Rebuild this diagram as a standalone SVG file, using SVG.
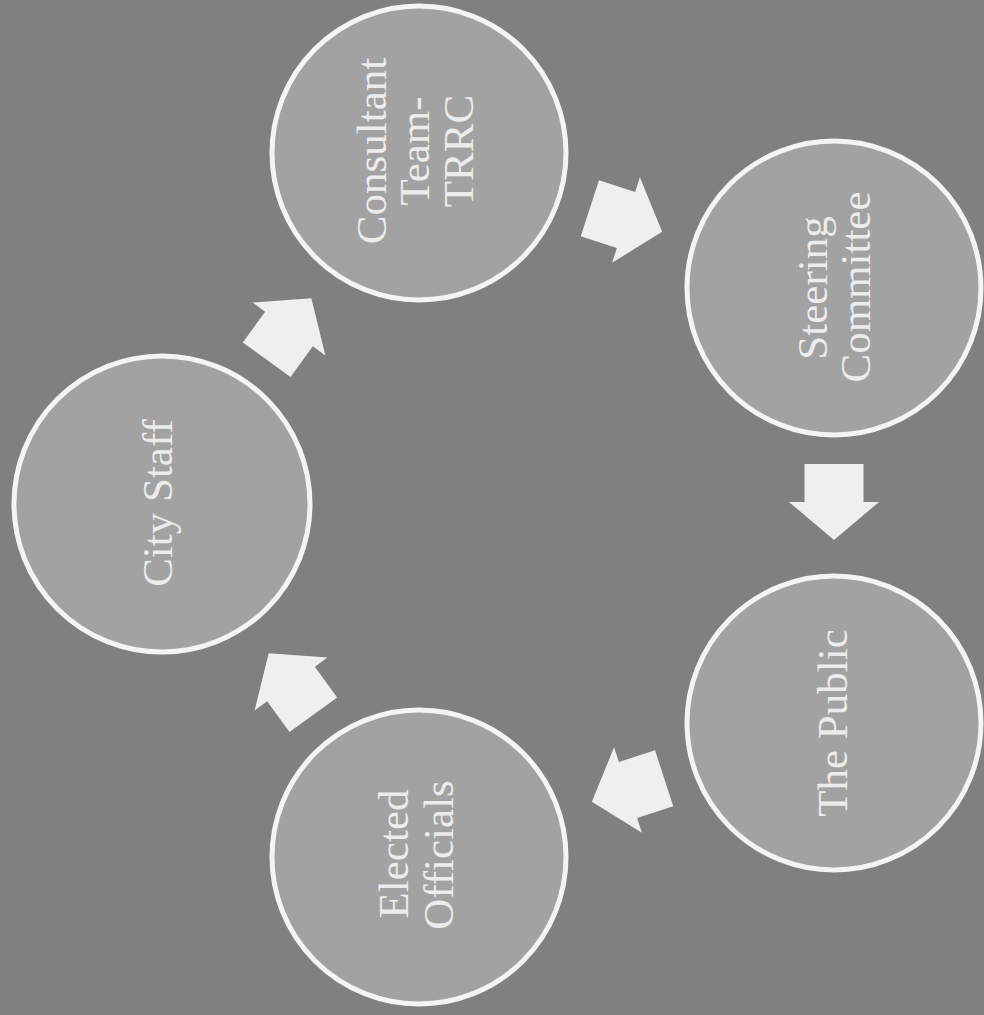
<svg xmlns="http://www.w3.org/2000/svg" width="984" height="1015" viewBox="0 0 984 1015">
  <style>
    .bg { fill: #808080; }
    .node circle { fill: #a2a2a2; stroke: #f4f4f4; stroke-width: 5; }
    .node text { font-family: "Liberation Serif", "Times New Roman", serif; font-size: 43px; fill: #ececec; text-anchor: middle; }
    .arrow { fill: #efefef; }
  </style>
  <defs>
    <path id="blk" d="M-38,-29.5 H0 V-45 L38,0 L0,45 V29.5 H-38 Z"/>
  </defs>
  <rect class="bg" x="0" y="0" width="984" height="1015"/>

  <g id="connectors">
    <use href="#blk" class="arrow" transform="translate(289,329) rotate(-54)"/>
    <use href="#blk" class="arrow" transform="translate(626,220) rotate(18)"/>
    <use href="#blk" class="arrow" transform="translate(834,502) rotate(90)"/>
    <use href="#blk" class="arrow" transform="translate(628,790) rotate(162)"/>
    <use href="#blk" class="arrow" transform="translate(291,684) rotate(-126)"/>
  </g>

  <g id="consultant" class="node">
    <circle cx="419" cy="153" r="147"/>
    <g transform="translate(419,153) rotate(-90)">
      <text x="2" y="-33">Consultant</text>
      <text x="2" y="10">Team-</text>
      <text x="2" y="54">TRRC</text>
    </g>
  </g>

  <g id="steering" class="node">
    <circle cx="834" cy="288" r="147"/>
    <g transform="translate(834,288) rotate(-90)">
      <text x="0" y="-7">Steering</text>
      <text x="1" y="36">Committee</text>
    </g>
  </g>

  <g id="public" class="node">
    <circle cx="834" cy="723" r="147"/>
    <g transform="translate(834,723) rotate(-90)">
      <text x="0" y="13">The Public</text>
    </g>
  </g>

  <g id="elected" class="node">
    <circle cx="419" cy="857" r="147"/>
    <g transform="translate(419,857) rotate(-90)">
      <text x="3" y="-11">Elected</text>
      <text x="2" y="34">Officials</text>
    </g>
  </g>

  <g id="citystaff" class="node">
    <circle cx="162" cy="504" r="148"/>
    <g transform="translate(162,504) rotate(-90)">
      <text x="1" y="10">City Staff</text>
    </g>
  </g>
</svg>
